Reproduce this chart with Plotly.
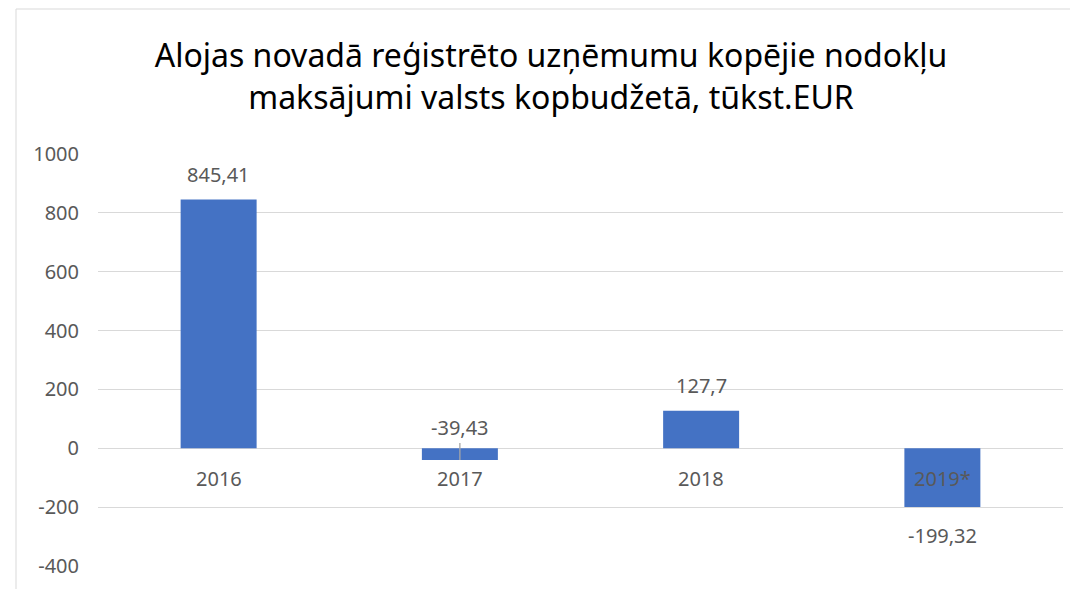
import plotly.graph_objects as go

categories = ["2016", "2017", "2018", "2019*"]
values = [845.41, -39.43, 127.7, -199.32]
y_ticks = [-400, -200, 0, 200, 400, 600, 800, 1000]
y_tick_text = ["-400", "-200", "0", "200", "400", "600", "800", "1000"]
title_text = "Alojas novadā reģistrēto uzņēmumu kopējie nodokļu<br>maksājumi valsts kopbudžetā, tūkst.EUR"

FONT = "Noto Sans"
GREY = "#595959"
FS = 20

fig = go.Figure()
fig.add_trace(go.Bar(
    x=categories, y=values, width=0.315,
    marker=dict(color="#4472C4", line=dict(width=0)),
    hoverinfo="skip",
))

annotations = []
for i, (c, v) in enumerate(zip(categories, values)):
    label = f"{v}".replace(".", ",")
    if c == "2017":
        annotations.append(dict(x=i, y=v, text=label, showarrow=True, arrowhead=0,
                                arrowcolor="#A6A6A6", arrowwidth=1.3, ax=0, ay=-32,
                                standoff=0, font=dict(family=FONT, size=FS, color=GREY)))
    elif v >= 0:
        annotations.append(dict(x=i, y=v, text=label, showarrow=False, yshift=25,
                                font=dict(family=FONT, size=FS, color=GREY)))
    else:
        annotations.append(dict(x=i, y=v, text=label, showarrow=False, yshift=-29,
                                font=dict(family=FONT, size=FS, color=GREY)))
    annotations.append(dict(x=i, y=0, text=c, showarrow=False, yshift=-30,
                            font=dict(family=FONT, size=FS, color=GREY)))

fig.update_layout(
    width=1078, height=589,
    margin=dict(l=90, r=23, t=146, b=31),
    paper_bgcolor="white", plot_bgcolor="white",
    title=dict(text=title_text, x=543 / 1078, xanchor="center", xref="container",
               y=1 - 59 / 589, yanchor="middle", yref="container",
               font=dict(family=FONT, size=32, color="#000000")),
    showlegend=False,
    bargap=0.685,
    xaxis=dict(type="category", showticklabels=False, showgrid=False, zeroline=False,
               showline=False, ticks="", range=[-0.5, 3.5]),
    yaxis=dict(range=[-400, 1000], tickvals=y_ticks, ticktext=y_tick_text, showgrid=True,
               gridcolor="#D9D9D9", gridwidth=1, zeroline=True, zerolinecolor="#D9D9D9",
               zerolinewidth=1, showline=False, ticks="", ticklabelstandoff=18,
               tickfont=dict(family=FONT, size=FS, color=GREY)),
    annotations=annotations,
    shapes=[dict(type="rect", xref="paper", yref="paper",
                 x0=-82 / 965, x1=1.05, y0=-0.2, y1=1 + 145 / 412,
                 line=dict(color="#D9D9D9", width=1), layer="below")],
)

fig.write_html("out.html")
